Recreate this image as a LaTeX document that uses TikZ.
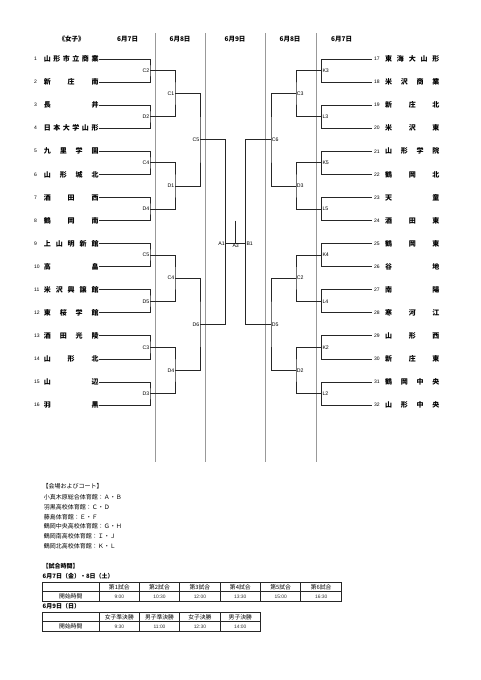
\documentclass[tikz,border=0pt]{standalone}
\usepackage{fontspec}
\setmainfont{Liberation Sans}
\newfontfamily\jp{Noto Sans CJK JP}
\tikzset{
 sepline/.style={draw=black!40, line width=0.6pt},
 bline/.style={draw=black!85, line width=0.75pt},
 mlab/.style={font=\fontsize{5.2}{6}\selectfont, inner sep=0.6pt},
 tnum/.style={font=\fontsize{5}{6}\selectfont, inner sep=0pt, anchor=west},
 tname/.style={font=\jp\bfseries\fontsize{7}{8}\selectfont, inner sep=0pt, anchor=west},
 hdr/.style={font=\jp\bfseries\fontsize{6.5}{7}\selectfont, inner sep=0pt},
 btxt/.style={font=\jp\fontsize{6}{7}\selectfont, inner sep=0pt, anchor=west},
 bbtxt/.style={font=\jp\bfseries\fontsize{6}{7}\selectfont, inner sep=0pt, anchor=west},
 cell/.style={font=\jp\fontsize{5.8}{7}\selectfont, inner sep=0pt},
 tcell/.style={font=\fontsize{4.9}{5.5}\selectfont, text=black!80, inner sep=0pt},
 tframe/.style={draw=black!85, line width=0.85pt},
 tgrid/.style={draw=black!85, line width=0.5pt},
}
\begin{document}
\begin{tikzpicture}[x=1pt,y=-1pt]
\useasboundingbox (0,0) rectangle (481,680);
\fill[white] (0,0) rectangle (481,680);

% separators
\foreach \x/\n in {155/s1,205.3/s2,265.7/s3,316/s4}{
  \coordinate (\n a) at (\x,33); \coordinate (\n b) at (\x,462);
  \draw[sepline] (\n a) -- (\n b);
}

% headers
\node[hdr] (hw) at (71.7,39.5) {《女子》};
\node[hdr] (h1) at (127.7,39) {6月7日};
\node[hdr] (h2) at (180,39) {6月8日};
\node[hdr] (h3) at (235,39) {6月9日};
\node[hdr] (h4) at (290,39) {6月8日};
\node[hdr] (h5) at (341.7,39) {6月7日};

% left teams
\foreach \i/\t in {1/{山\hfill 形\hfill 市\hfill 立\hfill 商\hfill 業},
  2/{新\hfill 庄\hfill 南},
  3/{長\hfill 井},
  4/{日\hfill 本\hfill 大\hfill 学\hfill 山\hfill 形},
  5/{九\hfill 里\hfill 学\hfill 園},
  6/{山\hfill 形\hfill 城\hfill 北},
  7/{酒\hfill 田\hfill 西},
  8/{鶴\hfill 岡\hfill 南},
  9/{上\hfill 山\hfill 明\hfill 新\hfill 館},
  10/{高\hfill 畠},
  11/{米\hfill 沢\hfill 興\hfill 譲\hfill 館},
  12/{東\hfill 桜\hfill 学\hfill 館},
  13/{酒\hfill 田\hfill 光\hfill 陵},
  14/{山\hfill 形\hfill 北},
  15/{山\hfill 辺},
  16/{羽\hfill 黒}}{
  \pgfmathsetmacro\yy{59+(\i-1)*23.07}
  \node[tnum] (n\i) at (34,\yy) {\i};
  \node[tname] (t\i) at (43.7,\yy) {\makebox[54.6pt][s]{\t}};
  \coordinate (e\i) at (98.8,\yy);
}
% right teams
\foreach \i/\t in {17/{東\hfill 海\hfill 大\hfill 山\hfill 形},
  18/{米\hfill 沢\hfill 商\hfill 業},
  19/{新\hfill 庄\hfill 北},
  20/{米\hfill 沢\hfill 東},
  21/{山\hfill 形\hfill 学\hfill 院},
  22/{鶴\hfill 岡\hfill 北},
  23/{天\hfill 童},
  24/{酒\hfill 田\hfill 東},
  25/{鶴\hfill 岡\hfill 東},
  26/{谷\hfill 地},
  27/{南\hfill 陽},
  28/{寒\hfill 河\hfill 江},
  29/{山\hfill 形\hfill 西},
  30/{新\hfill 庄\hfill 東},
  31/{鶴\hfill 岡\hfill 中\hfill 央},
  32/{山\hfill 形\hfill 中\hfill 央}}{
  \pgfmathsetmacro\yy{59+(\i-17)*23.07}
  \node[tnum] (n\i) at (374,\yy) {\i};
  \node[tname] (t\i) at (385,\yy) {\makebox[54.2pt][s]{\t}};
  \coordinate (e\i) at (371.7,\yy);
}

% match points
\foreach \k in {1,...,8}{
  \pgfmathsetmacro\yy{59+(2*\k-1.5)*23.07}
  \coordinate (a1\k) at (150,\yy); \coordinate (b1\k) at (321.7,\yy);
}
\foreach \k in {1,...,4}{
  \pgfmathsetmacro\yy{59+(4*\k-2.5)*23.07}
  \coordinate (a2\k) at (175,\yy); \coordinate (b2\k) at (296,\yy);
}
\foreach \k in {1,2}{
  \pgfmathsetmacro\yy{59+(8*\k-4.5)*23.07}
  \coordinate (a3\k) at (200,\yy); \coordinate (b3\k) at (271,\yy);
}
\coordinate (A1) at (225.5,243.3);
\coordinate (B1) at (245.7,243.3);
\coordinate (A3top) at (235.7,220.7);
\coordinate (A3) at (235.7,243.3);

% round 1
\foreach \k in {1,...,8}{
  \pgfmathtruncatemacro\p{2*\k-1}
  \pgfmathtruncatemacro\q{2*\k}
  \pgfmathtruncatemacro\r{16+2*\k-1}
  \pgfmathtruncatemacro\s{16+2*\k}
  \draw[bline] (e\p) -| (a1\k) |- (e\q);
  \draw[bline] (e\r) -| (b1\k) |- (e\s);
}
% round 2
\foreach \k in {1,...,4}{
  \pgfmathtruncatemacro\p{2*\k-1}
  \pgfmathtruncatemacro\q{2*\k}
  \draw[bline] (a1\p) -| (a2\k) |- (a1\q);
  \draw[bline] (b1\p) -| (b2\k) |- (b1\q);
}
% round 3
\draw[bline] (a21) -| (a31) |- (a22);
\draw[bline] (a23) -| (a32) |- (a24);
\draw[bline] (b21) -| (b31) |- (b22);
\draw[bline] (b23) -| (b32) |- (b24);
% final
\draw[bline] (a31) -| (A1) |- (a32);
\draw[bline] (b31) -| (B1) |- (b32);
\draw[bline] (A1) -- (B1);
\draw[bline] (A3top) -- (A3);

% labels
\foreach \k/\l in {1/C2,2/D2,3/C4,4/D4,5/C5,6/D5,7/C3,8/D3}
  \node[mlab,anchor=east] (la1\k) at (a1\k) {\l};
\foreach \k/\l in {1/C1,2/D1,3/C4,4/D4}
  \node[mlab,anchor=east] (la2\k) at (a2\k) {\l};
\foreach \k/\l in {1/C5,2/D6}
  \node[mlab,anchor=east] (la3\k) at (a3\k) {\l};
\foreach \k/\l in {1/K3,2/L3,3/K5,4/L5,5/K4,6/L4,7/K2,8/L2}
  \node[mlab,anchor=west] (lb1\k) at (b1\k) {\l};
\foreach \k/\l in {1/C3,2/D3,3/C2,4/D2}
  \node[mlab,anchor=west] (lb2\k) at (b2\k) {\l};
\foreach \k/\l in {1/C6,2/D5}
  \node[mlab,anchor=west] (lb3\k) at (b3\k) {\l};
\node[mlab,anchor=east] (lA1) at (A1) {A1};
\node[mlab,anchor=west] (lB1) at (B1) {B1};
\node[mlab,anchor=north] (lA3) at (A3) {A3};

% venues
\node[btxt] (v0) at (42.5,486.7) {【会場およびコート】};
\node[btxt] (v1) at (43.7,497.3) {小真木原総合体育館：Ａ・Ｂ};
\node[btxt] (v2) at (43.7,507.3) {羽黒高校体育館：Ｃ・Ｄ};
\node[btxt] (v3) at (43.7,517) {藤島体育館：Ｅ・Ｆ};
\node[btxt] (v4) at (43.7,526.7) {鶴岡中央高校体育館：Ｇ・Ｈ};
\node[btxt] (v5) at (43.7,536.7) {鶴岡南高校体育館：Ｉ・Ｊ};
\node[btxt] (v6) at (43.7,546.7) {鶴岡北高校体育館：Ｋ・Ｌ};

% times
\node[bbtxt] (m0) at (42.5,566) {【試合時間】};
\node[bbtxt] (m1) at (42.5,576) {6月7日（金）・8日（土）};
\node[bbtxt] (m2) at (42.5,606.5) {6月9日（日）};

% table 1
\foreach \x in {99.3,139.3,179.7,220,260.7,300.7}
  \draw[tgrid] (\x,582) -- (\x,601.3);
\draw[tgrid] (42.3,591.7) -- (341.7,591.7);
\draw[tframe] (42.3,582) rectangle (341.7,601.3);
\node[cell] (c10) at (70.8,596.4) {開始時間};
\foreach \c/\x/\h/\t in {1/119.3/第1試合/9:00,2/159.5/第2試合/10:30,3/199.9/第3試合/12:00,4/240.3/第4試合/13:30,5/280.7/第5試合/15:00,6/321.2/第6試合/16:30}{
  \node[cell] (h1\c) at (\x,586.8) {\h};
  \node[tcell] (d1\c) at (\x,596.4) {\t};
}
% table 2
\foreach \x in {99.3,139.3,179.7,220}
  \draw[tgrid] (\x,612.3) -- (\x,631);
\draw[tgrid] (42.3,621.7) -- (260.7,621.7);
\draw[tframe] (42.3,612.3) rectangle (260.7,631);
\node[cell] (c20) at (70.8,626.5) {開始時間};
\foreach \c/\x/\h/\t in {1/119.3/女子準決勝/9:30,2/159.5/男子準決勝/11:00,3/199.9/女子決勝/12:30,4/240.3/男子決勝/14:00}{
  \node[cell] (h2\c) at (\x,617) {\h};
  \node[tcell] (d2\c) at (\x,626.5) {\t};
}
\end{tikzpicture}
\end{document}
